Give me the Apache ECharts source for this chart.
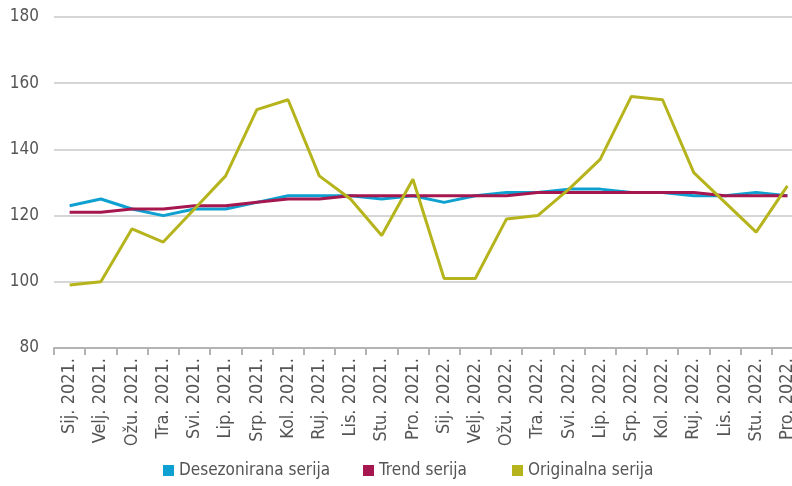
<!DOCTYPE html>
<html><head><meta charset="utf-8">
<script src="https://cdn.jsdelivr.net/npm/echarts@6/dist/echarts.min.js"></script>
<style>html,body{margin:0;padding:0;background:#fff}#c{width:792px;height:486px}</style>
</head><body><div id="c"></div>
<script>
const categories = ["Sij. 2021.","Velj. 2021.","Ožu. 2021.","Tra. 2021.","Svi. 2021.","Lip. 2021.","Srp. 2021.","Kol. 2021.","Ruj. 2021.","Lis. 2021.","Stu. 2021.","Pro. 2021.","Sij. 2022.","Velj. 2022.","Ožu. 2022.","Tra. 2022.","Svi. 2022.","Lip. 2022.","Srp. 2022.","Kol. 2022.","Ruj. 2022.","Lis. 2022.","Stu. 2022.","Pro. 2022."];
const desezonirana = [123,125,122,120,122,122,124,126,126,126,125,126,124,126,127,127,128,128,127,127,126,126,127,126];
const trend = [121,121,122,122,123,123,124,125,125,126,126,126,126,126,126,127,127,127,127,127,127,126,126,126];
const originalna = [99,100,116,112,122,132,152,155,132,125,114,131,101,101,119,120,128,137,156,155,133,124,115,129];
const yTicks = {min:80, max:180, interval:20};
const seriesNames = ['Desezonirana serija','Trend serija','Originalna serija'];

const font = "'Liberation Sans Narrow','DejaVu Sans Condensed',sans-serif";
const chart = echarts.init(document.getElementById('c'));
const mk = (name, data, color) => ({name, type:'line', data, symbol:'none', lineStyle:{width:3, color}, itemStyle:{color}});
const legendLefts = [158, 358, 507];
chart.setOption({
  animation:false,
  grid:{left:54, width:749, top:17, height:331, outerBoundsMode:'none', containLabel:false},
  legend: seriesNames.map((n,i)=>({left:legendLefts[i], bottom:2, itemWidth:11, itemHeight:11, icon:'rect',
    textStyle:{fontFamily:font, fontSize:17, color:'#555'}, data:[n]})),
  xAxis:{type:'category', data:categories, boundaryGap:true,
    axisLine:{lineStyle:{color:'#b4b4b4', width:2}},
    axisTick:{show:true, length:7, lineStyle:{color:'#b4b4b4', width:2}},
    axisLabel:{rotate:90, interval:0, fontFamily:font, fontSize:18, color:'#555', margin:10}},
  yAxis:{type:'value', min:yTicks.min, max:yTicks.max, interval:yTicks.interval,
    axisLine:{show:false}, axisTick:{show:false},
    axisLabel:{fontFamily:font, fontSize:17, color:'#555', margin:15},
    splitLine:{lineStyle:{color:'#c8c8c8', width:1.5}}},
  series:[
    mk(seriesNames[0], desezonirana, '#0ea0d0'),
    mk(seriesNames[1], trend, '#a6174f'),
    mk(seriesNames[2], originalna, '#b6b41c')
  ]
});
</script></body></html>
